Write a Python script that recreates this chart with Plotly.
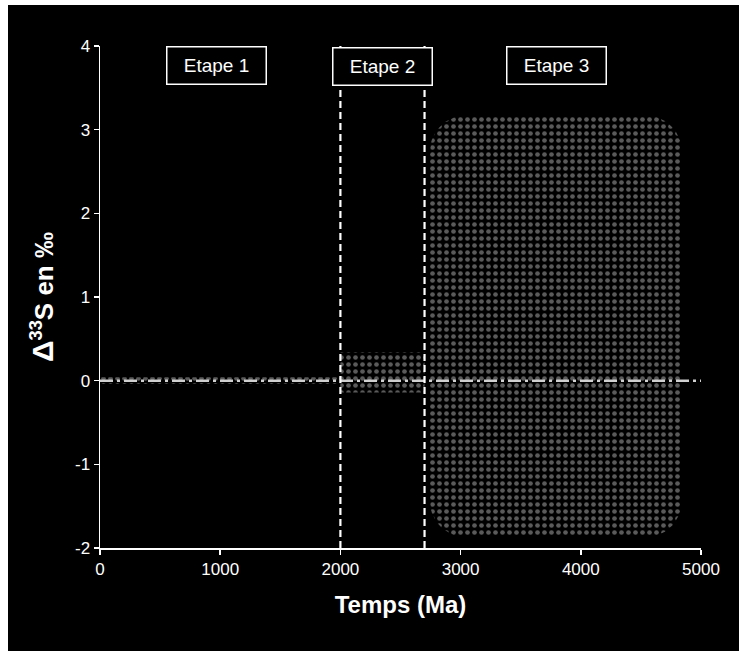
import numpy as np
import plotly.graph_objects as go

# ---- data ----
stage_labels = ["Etape 1", "Etape 2", "Etape 3"]
stage_label_x = [970, 2350, 3800]
stage_label_y = [3.77, 3.76, 3.77]
region_x0 = [0, 2000, 2745]
region_x1 = [2000, 2700, 4840]
region_y0 = [-0.04, -0.14, -1.87]
region_y1 = [0.04, 0.34, 3.17]
region_rounded = [False, False, True]
boundary_x = [2000, 2700]
ref_x = [0, 5000]
ref_y = [0, 0]
x_ticks = [0, 1000, 2000, 3000, 4000, 5000]
x_ticklabels = ["0", "1000", "2000", "3000", "4000", "5000"]
y_ticks = [-2, -1, 0, 1, 2, 3, 4]
y_ticklabels = ["-2", "-1", "0", "1", "2", "3", "4"]

# ---- layout constants ----
W, H = 739, 651
ML, MR, MT, MB = 100, 38, 46, 103
XR = [0, 5000]
YR = [-2, 4]
px_x = (W - ML - MR) / (XR[1] - XR[0])
px_y = (H - MT - MB) / (YR[1] - YR[0])
FONT = "Liberation Sans, Arial, sans-serif"


def rounded_path(x0, x1, y0, y1, r_px):
    rx = r_px / px_x
    ry = r_px / px_y
    xs, ys = [], []
    corners = [
        (x1 - rx, y1 - ry, 0, 90),
        (x0 + rx, y1 - ry, 90, 180),
        (x0 + rx, y0 + ry, 180, 270),
        (x1 - rx, y0 + ry, 270, 360),
    ]
    for cx, cy, a0, a1 in corners:
        t = np.radians(np.linspace(a0, a1, 20))
        xs.extend(cx + rx * np.cos(t))
        ys.extend(cy + ry * np.sin(t))
    xs.append(xs[0])
    ys.append(ys[0])
    return xs, ys


fig = go.Figure()

pattern = dict(shape=".", size=7, solidity=0.35, fgcolor="#5a5a5a", bgcolor="#000000", fillmode="replace")

for x0, x1, y0, y1, rnd in zip(region_x0, region_x1, region_y0, region_y1, region_rounded):
    if rnd:
        xs, ys = rounded_path(x0, x1, y0, y1, 36)
    else:
        xs = [x0, x1, x1, x0, x0]
        ys = [y0, y0, y1, y1, y0]
    fig.add_trace(go.Scatter(x=xs, y=ys, mode="lines", fill="toself",
                             fillcolor="#000000", fillpattern=pattern,
                             line=dict(width=0, color="rgba(0,0,0,0)"),
                             hoverinfo="skip", showlegend=False))

fig.add_trace(go.Scatter(x=ref_x, y=ref_y, mode="lines",
                         line=dict(color="#d0d0d0", width=2.5, dash="13px,4px,3px,4px"),
                         showlegend=False, hoverinfo="skip"))

for bx in boundary_x:
    fig.add_trace(go.Scatter(x=[bx, bx], y=YR, mode="lines",
                             line=dict(color="#ffffff", width=2.2, dash="7px,4px"),
                             showlegend=False, hoverinfo="skip"))

for lab, lx, ly in zip(stage_labels, stage_label_x, stage_label_y):
    fig.add_annotation(x=lx, y=ly, text=lab, showarrow=False,
                       font=dict(family=FONT, size=19, color="#ffffff"),
                       bordercolor="#ffffff", borderwidth=1.5, borderpad=2,
                       bgcolor="#000000", width=94, height=32)

axis_common = dict(showgrid=False, zeroline=False, showline=True, linecolor="#ffffff",
                   linewidth=1.5, ticks="outside", tickcolor="#ffffff", ticklen=5,
                   tickwidth=1.5,
                   tickfont=dict(family=FONT, size=17, color="#ffffff"))

fig.update_xaxes(range=XR, tickvals=x_ticks, ticktext=x_ticklabels, **axis_common,
                 title=dict(text="<b>Temps (Ma)</b>",
                            font=dict(family=FONT, size=24, color="#ffffff"),
                            standoff=18))
fig.update_yaxes(range=YR, tickvals=y_ticks, ticktext=y_ticklabels, **axis_common,
                 title=dict(text="<b><span style='font-size:30px'>Δ</span><sup>33</sup>S en ‰</b>",
                            font=dict(family=FONT, size=26, color="#ffffff"),
                            standoff=14))

# thin white frame strips along the left and top edges of the picture
w_plot = W - ML - MR
h_plot = H - MT - MB
fig.add_shape(type="rect", xref="paper", yref="paper",
              x0=(0 - ML) / w_plot, x1=(8 - ML) / w_plot,
              y0=-MB / h_plot, y1=1 + MT / h_plot,
              fillcolor="#ffffff", line=dict(width=0), layer="above")
fig.add_shape(type="rect", xref="paper", yref="paper",
              x0=(0 - ML) / w_plot, x1=1 + MR / w_plot,
              y0=1 + (MT - 5) / h_plot, y1=1 + MT / h_plot,
              fillcolor="#ffffff", line=dict(width=0), layer="above")

fig.update_layout(width=W, height=H, margin=dict(l=ML, r=MR, t=MT, b=MB),
                  paper_bgcolor="#000000", plot_bgcolor="#000000",
                  showlegend=False)

fig.write_html("out.html",
               config={"displayModeBar": False, "staticPlot": True},
               post_script="document.body.style.margin='0';"
                           "document.body.style.padding='0';"
                           "document.documentElement.style.overflow='hidden';")
